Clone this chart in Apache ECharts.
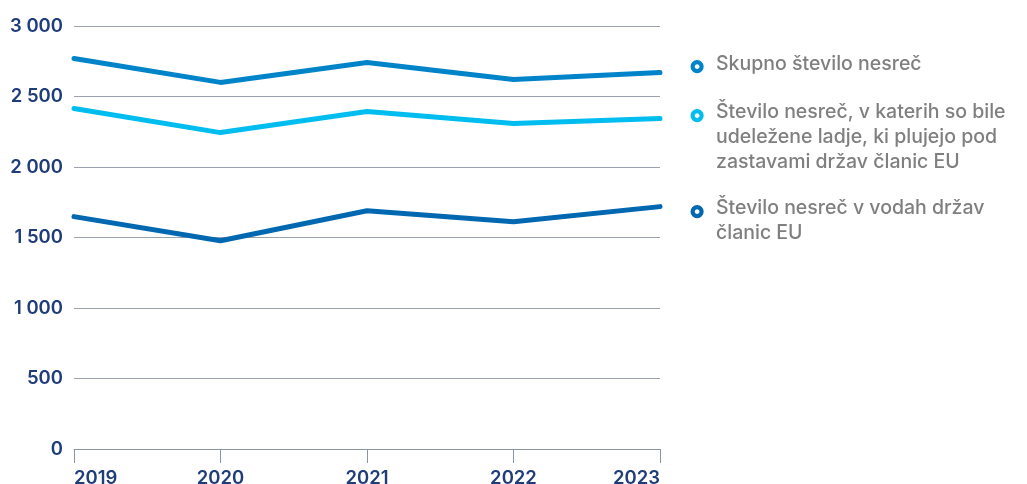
<!DOCTYPE html>
<html>
<head>
<meta charset="utf-8">
<script src="https://cdn.jsdelivr.net/npm/echarts@6/dist/echarts.min.js"></script>
<style>
  html, body { margin: 0; padding: 0; background: #fff; }
  #chart { width: 1027px; height: 484px; }
</style>
</head>
<body>
<div id="chart"></div>
<script>
// Pomorske nesreče po letih
const years = ['2019', '2020', '2021', '2022', '2023'];
const seriesNames = [
  'Skupno število nesreč',
  'Število nesreč, v katerih so bile\nudeležene ladje, ki plujejo pod\nzastavami držav članic EU',
  'Število nesreč v vodah držav\nčlanic EU'
];
const skupno = [2770, 2600, 2741, 2621, 2670];
const podZastavoEU = [2415, 2244, 2393, 2308, 2344];
const vVodahEU = [1648, 1477, 1690, 1612, 1719];
const colors = ['#0084c9', '#00bdf0', '#0067b1'];

const chart = echarts.init(document.getElementById('chart'), null, { renderer: 'canvas' });
const FONT = 'Inter, "Noto Sans", sans-serif';

const values = [skupno, podZastavoEU, vVodahEU];

// legend drawn as ring markers with wrapped labels
const legendTops = [52, 100, 196];
const markerCenters = [64.5, 113.5, 209.5];
const legendGraphics = [];
seriesNames.forEach((name, i) => {
  legendGraphics.push({
    type: 'circle',
    left: 690.5, top: markerCenters[i] - 4.5,
    shape: { r: 4.5 },
    style: { fill: '#fff', stroke: colors[i], lineWidth: 4.2 }
  });
  legendGraphics.push({
    type: 'text',
    left: 716, top: legendTops[i],
    style: {
      text: name,
      fill: '#7f7f7f',
      font: '500 19.5px ' + FONT,
      lineHeight: 25
    }
  });
});

chart.setOption({
  animation: false,
  grid: { left: 74, right: 367, top: 26, bottom: 35, containLabel: false, outerBoundsMode: 'none' },
  xAxis: {
    type: 'category',
    data: years,
    boundaryGap: false,
    axisLine: { show: true, lineStyle: { color: '#8a96a3', width: 1 } },
    axisTick: { show: true, alignWithLabel: true, length: 14, lineStyle: { color: '#8a96a3' } },
    axisLabel: {
      color: '#1f3d7a', fontSize: 18.5, fontWeight: 600, fontFamily: FONT, margin: 20,
      alignMinLabel: 'left', alignMaxLabel: 'right'
    }
  },
  yAxis: {
    type: 'value',
    min: 0, max: 3000, interval: 500,
    axisLine: { show: false },
    axisTick: { show: false },
    splitLine: { lineStyle: { color: '#9aa3ad', width: 1 } },
    axisLabel: {
      color: '#1f3d7a', fontSize: 18.5, fontWeight: 600, fontFamily: FONT, margin: 11,
      formatter: v => v >= 1000 ? String(v).replace(/(\d)(\d{3})$/, '$1 $2') : String(v)
    }
  },
  series: values.map((d, i) => ({
    name: seriesNames[i],
    type: 'line',
    data: d,
    showSymbol: false,
    symbol: 'none',
    lineStyle: { color: colors[i], width: 5, cap: 'round', join: 'round' },
    itemStyle: { color: colors[i] },
    z: 3 - i
  })),
  graphic: legendGraphics
});
</script>
</body>
</html>
